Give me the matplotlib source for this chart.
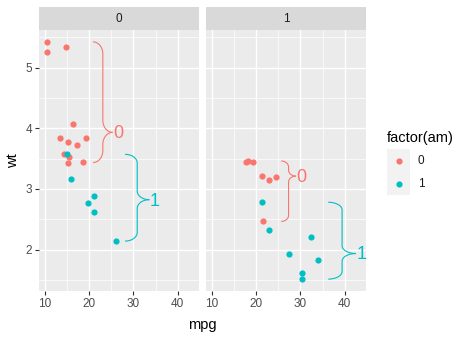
import numpy as np
import matplotlib.pyplot as plt

plt.rcParams['font.family'] = ['Liberation Sans', 'DejaVu Sans']

# mtcars columns used: mpg, wt, vs (engine) and am (transmission)
mpg = [21.0, 21.0, 22.8, 21.4, 18.7, 18.1, 14.3, 24.4, 22.8, 19.2, 17.8, 16.4,
       17.3, 15.2, 10.4, 10.4, 14.7, 32.4, 30.4, 33.9, 21.5, 15.5, 15.2, 13.3,
       19.2, 27.3, 26.0, 30.4, 15.8, 19.7, 15.0, 21.4]
wt = [2.620, 2.875, 2.320, 3.215, 3.440, 3.460, 3.570, 3.190, 3.150, 3.440,
      3.440, 4.070, 3.730, 3.780, 5.250, 5.424, 5.345, 2.200, 1.615, 1.835,
      2.465, 3.520, 3.435, 3.840, 3.845, 1.935, 2.140, 1.513, 3.170, 2.770,
      3.570, 2.780]
vs = [0, 0, 1, 1, 0, 1, 0, 1, 1, 1, 1, 0, 0, 0, 0, 0, 0, 1, 1, 1, 1, 0, 0, 0,
      0, 1, 0, 1, 0, 0, 0, 1]
am = [1, 1, 1, 0, 0, 0, 0, 0, 0, 0, 0, 0, 0, 0, 0, 0, 0, 1, 1, 1, 0, 0, 0, 0,
      0, 1, 1, 1, 1, 1, 1, 1]

facets = [0, 1]
am_levels = [0, 1]
colors = {0: '#F8766D', 1: '#00BFC4'}

mpg = np.array(mpg)
wt = np.array(wt)
vs = np.array(vs)
am = np.array(am)


def brace(ax, xs, ys, color, label):
    # curly brace to the right of a group, spanning its wt range
    ylo, yhi = ys.min(), ys.max()
    xr = xs.max() - xs.min()
    x0 = xs.max() + 0.19 * xr
    a = 0.25 * xr
    h = yhi - ylo
    frac = np.clip((np.median(ys) - ylo) / h, 0.25, 0.75)
    ytip = ylo + frac * h
    b = 0.1 * h
    t = np.linspace(0, np.pi / 2, 30)
    # lower half
    xl = np.concatenate([x0 + a * np.sin(t), x0 + 2 * a - a * np.cos(t)])
    yl = np.concatenate([ylo + b - b * np.cos(t), ytip - b + b * np.sin(t)])
    # upper half
    xu = np.concatenate([x0 + a * np.sin(t), x0 + 2 * a - a * np.cos(t)])
    yu = np.concatenate([yhi - b + b * np.cos(t), ytip + b - b * np.sin(t)])
    ax.plot(xl, yl, color=color, lw=0.8, solid_capstyle='butt')
    ax.plot(xu, yu, color=color, lw=0.8, solid_capstyle='butt')
    ax.annotate(label, (x0 + 2 * a, ytip), xytext=(0.5, -1),
                textcoords='offset points', ha='left', va='center',
                color=color, fontsize=13)


W, H = 471, 337
fig = plt.figure(figsize=(W / 100, H / 100), dpi=100)

panel_px = [(39, 199), (206, 366)]
top_px, bot_px, strip_top = 30, 291, 7

for i, f in enumerate(facets):
    l, r = panel_px[i]
    ax = fig.add_axes([l / W, (H - bot_px) / H, (r - l) / W, (bot_px - top_px) / H])
    ax.set_facecolor('#EBEBEB')
    for s in ax.spines.values():
        s.set_visible(False)
    ax.set_xlim(8.65, 44.8)
    ax.set_ylim(1.317, 5.62)
    ax.set_xticks([10, 20, 30, 40])
    ax.set_yticks([2, 3, 4, 5])
    ax.set_xticks([15, 25, 35], minor=True)
    ax.set_yticks([1.5, 2.5, 3.5, 4.5, 5.5], minor=True)
    ax.grid(which='major', color='white', lw=1.0)
    ax.grid(which='minor', color='white', lw=0.5)
    ax.set_axisbelow(True)
    ax.tick_params(which='major', length=3, width=0.8, color='#333333',
                   labelcolor='#4D4D4D', labelsize=8.5, pad=2)
    ax.tick_params(which='minor', length=0)
    if i > 0:
        ax.tick_params(axis='y', left=False, labelleft=False)

    sel = vs == f
    for lev in am_levels:
        m = sel & (am == lev)
        ax.scatter(mpg[m], wt[m], s=20, color=colors[lev], linewidths=0, zorder=3)
        brace(ax, mpg[m], wt[m], colors[lev], str(lev))

    # facet strip
    sax = fig.add_axes([l / W, (H - top_px) / H, (r - l) / W, (top_px - strip_top) / H])
    sax.set_facecolor('#D9D9D9')
    sax.set_xticks([])
    sax.set_yticks([])
    for s in sax.spines.values():
        s.set_visible(False)
    sax.text(0.5, 0.5, str(f), ha='center', va='center', fontsize=8.5,
             color='#1A1A1A', transform=sax.transAxes)

fig.text(202.5 / W, (H - 325) / H, 'mpg', ha='center', va='center', fontsize=10.5)
fig.text(13 / W, (H - 160.5) / H, 'wt', ha='center', va='center',
         rotation=90, fontsize=10.5)

# legend
fig.text(387 / W, (H - 138) / H, 'factor(am)', ha='left', va='center', fontsize=10.5)
lax = fig.add_axes([387 / W, (H - 195) / H, 23 / W, 46 / H])
lax.set_facecolor('#F2F2F2')
lax.set_xlim(0, 1)
lax.set_ylim(0, 2)
lax.set_xticks([])
lax.set_yticks([])
for s in lax.spines.values():
    s.set_visible(False)
for k, lev in enumerate(am_levels):
    lax.scatter([0.5], [1.5 - k], s=20, color=colors[lev], linewidths=0)
    fig.text(418 / W, (H - (161 + 23 * k)) / H, str(lev), ha='left',
             va='center', fontsize=8.5, color='#1A1A1A')

fig.savefig('out.png', dpi=100)
